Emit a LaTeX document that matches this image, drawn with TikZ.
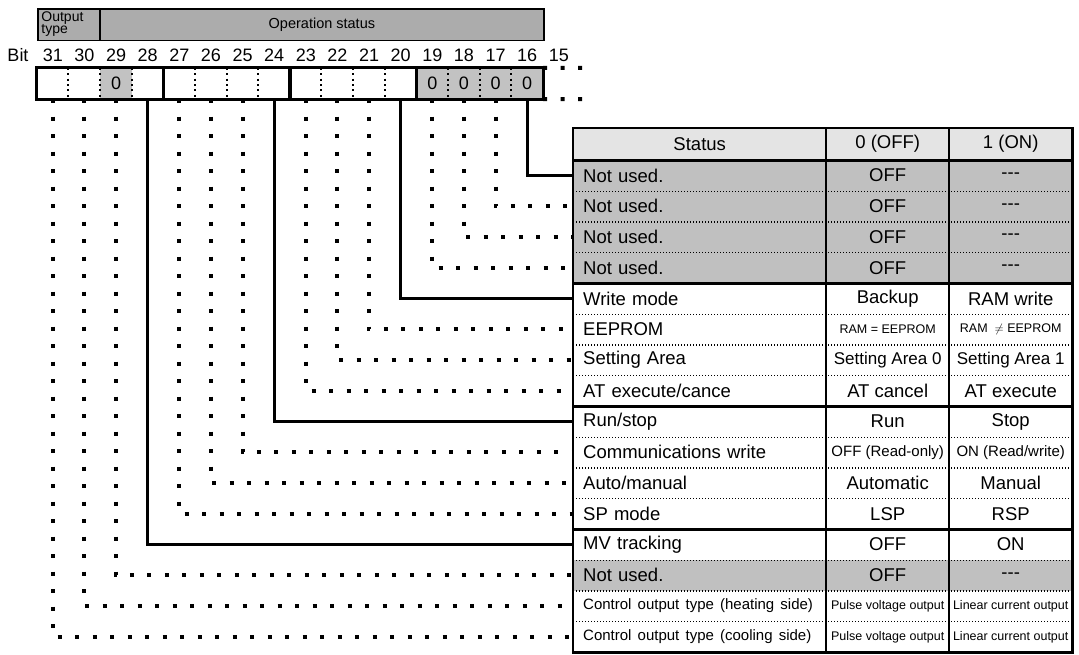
\documentclass[tikz,border=0pt]{standalone}
\usepackage{fontspec}
\setmainfont{Liberation Sans}
\definecolor{hdrgray}{RGB}{172,172,172}
\definecolor{bitgray}{RGB}{194,194,194}
\definecolor{rowgray}{RGB}{192,192,192}
\definecolor{topgray}{RGB}{228,228,228}
\newcommand{\smalltxt}{\fontsize{12.5}{14}\selectfont}
\newcommand{\midtxt}{\fontsize{15}{17}\selectfont}
\newcommand{\areatxt}{\fontsize{17}{19}\selectfont}
\newcommand{\notset}{-{}-{}-}
\tikzset{
% register on top: header boxes, bit cells and bit numbers
hdr box/.style={rectangle,draw,line width=1.5pt,fill=hdrgray,anchor=north west,minimum height=31.5pt,inner sep=0,font=\fontsize{14.5}{16}\selectfont},
bit cell/.style={rectangle,minimum width=31.625pt,minimum height=31pt,inner sep=0,font=\fontsize{18}{20}\selectfont},
zero cell/.style={bit cell,fill=bitgray},
bit num/.style={inner sep=0,font=\fontsize{18}{20}\selectfont},
reg sep/.style={line width=2pt,dash pattern=on 2pt off 3.4pt},
frame/.style={line width=2.8pt},
% table cells
name cell/.style={rectangle,anchor=north west,minimum height=30.75pt,inner xsep=10pt,inner ysep=0,text width=233pt,align=left,font=\fontsize{18.5}{20}\selectfont},
value cell/.style={rectangle,anchor=north west,minimum width=123pt,minimum height=30.75pt,inner sep=0,font=\fontsize{18.5}{20}\selectfont},
grey row/.style={fill=rowgray},
thin sep/.style={line width=1.3pt,dash pattern=on 1.3pt off 1.7pt},
col line/.style={line width=1.5pt},
% leaders from the bits to the table
solid lead/.style={line width=2.7pt},
dot lead/.style={line width=4pt,dash pattern=on 4pt off 13.5pt}
}

\begin{document}
\begin{tikzpicture}[x=1pt,y=-1pt]
\useasboundingbox (0,0) rectangle (1079,654);

% header boxes
\node[hdr box,minimum width=62.3pt,text width=55pt,align=left,font=\fontsize{14}{12}\selectfont] (optype) at (37,8) {Output\\type};
\node[hdr box,minimum width=443.7pt] (opstat) at (99.3,8) {Operation status};

% bit numbers
\node[bit num] (bitlbl) at (18,55) {Bit};
\foreach \i in {15,...,31}
    \node[bit num] (n\i) at ({37+(31.5-\i)*31.625},55) {\i};

% bit cells
\foreach \i in {20,21,22,23,24,25,26,27,28,30,31}
    \node[bit cell] (b\i) at ({37+(31.5-\i)*31.625},83.5) {};
\foreach \i in {16,17,18,19,29}
    \node[zero cell] (b\i) at ({37+(31.5-\i)*31.625},83.5) {0};
\foreach \i in {30,29,28,26,25,24,22,21,20,18,17,16}
    \draw[reg sep] (b\i.north west) -- (b\i.south west);
\draw[frame] (b31.north west) rectangle (b28.south east);
\draw[frame] (b27.north west) rectangle (b24.south east);
\draw[frame] (b23.north west) rectangle (b20.south east);
\draw[frame] (b19.north west) rectangle (b16.south east);

% bits 15 and below go on
\coordinate (more top) at (584,68);
\coordinate (more bot) at (584,99);
\draw[dot lead] (b16.north east) -- (more top);
\draw[dot lead] (b16.south east) -- (more bot);

% table header
\node[value cell,minimum width=253pt,minimum height=32pt,fill=topgray] (sthead) at (573,128) {Status};
\node[value cell,minimum height=32pt,fill=topgray] (offhead) at (826,128) {0 (OFF)};
\node[value cell,minimum height=32pt,fill=topgray] (onhead) at (949,128) {1 (ON)};

% bits 16 to 19
\node[name cell,grey row] (st0) at (573,160) {Not used.};
\node[value cell,grey row] (off0) at (826,160) {OFF};
\node[value cell,grey row] (on0) at (949,160) {\notset};
\node[name cell,grey row] (st1) at (573,190.75) {Not used.};
\node[value cell,grey row] (off1) at (826,190.75) {OFF};
\node[value cell,grey row] (on1) at (949,190.75) {\notset};
\node[name cell,grey row] (st2) at (573,221.5) {Not used.};
\node[value cell,grey row] (off2) at (826,221.5) {OFF};
\node[value cell,grey row] (on2) at (949,221.5) {\notset};
\node[name cell,grey row] (st3) at (573,252.25) {Not used.};
\node[value cell,grey row] (off3) at (826,252.25) {OFF};
\node[value cell,grey row] (on3) at (949,252.25) {\notset};

% bits 20 to 23
\node[name cell] (st4) at (573,283) {Write mode};
\node[value cell] (off4) at (826,283) {Backup};
\node[value cell] (on4) at (949,283) {RAM write};
\node[name cell] (st5) at (573,313.75) {EEPROM};
\node[value cell] (off5) at (826,313.75) {\smalltxt RAM = EEPROM};
\node[value cell] (on5) at (949,313.75) {\smalltxt RAM ~$\neq$ EEPROM};
\node[name cell] (st6) at (573,344.5) {Setting Area};
\node[value cell] (off6) at (826,344.5) {\areatxt Setting Area 0};
\node[value cell] (on6) at (949,344.5) {\areatxt Setting Area 1};
\node[name cell] (st7) at (573,375.25) {AT execute/cance};
\node[value cell] (off7) at (826,375.25) {AT cancel};
\node[value cell] (on7) at (949,375.25) {AT execute};

% bits 24 to 27
\node[name cell] (st8) at (573,406) {Run/stop};
\node[value cell] (off8) at (826,406) {Run};
\node[value cell] (on8) at (949,406) {Stop};
\node[name cell] (st9) at (573,436.75) {Communications write};
\node[value cell] (off9) at (826,436.75) {\midtxt OFF (Read-only)};
\node[value cell] (on9) at (949,436.75) {\midtxt ON (Read/write)};
\node[name cell] (st10) at (573,467.5) {Auto/manual};
\node[value cell] (off10) at (826,467.5) {Automatic};
\node[value cell] (on10) at (949,467.5) {Manual};
\node[name cell] (st11) at (573,498.25) {SP mode};
\node[value cell] (off11) at (826,498.25) {LSP};
\node[value cell] (on11) at (949,498.25) {RSP};

% bits 28 to 31
\node[name cell] (st12) at (573,529) {MV tracking};
\node[value cell] (off12) at (826,529) {OFF};
\node[value cell] (on12) at (949,529) {ON};
\node[name cell,grey row] (st13) at (573,559.75) {Not used.};
\node[value cell,grey row] (off13) at (826,559.75) {OFF};
\node[value cell,grey row] (on13) at (949,559.75) {\notset};
\node[name cell] (st14) at (573,590.5) {\midtxt Control output type (heating side)};
\node[value cell] (off14) at (826,590.5) {\smalltxt Pulse voltage output};
\node[value cell] (on14) at (949,590.5) {\smalltxt Linear current output};
\node[name cell] (st15) at (573,621.25) {\midtxt Control output type (cooling side)};
\node[value cell] (off15) at (826,621.25) {\smalltxt Pulse voltage output};
\node[value cell] (on15) at (949,621.25) {\smalltxt Linear current output};

% leaders
\draw[solid lead] (b16.south) |- (st0.west);
\draw[solid lead] (b20.south) |- (st4.west);
\draw[solid lead] (b24.south) |- (st8.west);
\draw[solid lead] (b28.south) |- (st12.west);
\foreach \i/\k in {17/1,18/2,19/3,21/5,22/6,23/7,25/9,26/10,27/11,29/13,30/14,31/15}
    \draw[dot lead] (b\i.south) |- (st\k.west);

% table rules
\foreach \k in {0,1,2,4,5,6,8,9,10,12,13,14}
    \draw[thin sep] (st\k.south west) -- (on\k.south east);
\draw[col line] (offhead.north west) -- (off15.south west);
\draw[col line] (onhead.north west) -- (on15.south west);
\foreach \k in {3,7,11}
    \draw[frame] (st\k.south west) -- (on\k.south east);
\draw[frame] (sthead.south west) -- (onhead.south east);
\draw[frame] (sthead.north west) rectangle (on15.south east);
\end{tikzpicture}
\end{document}
